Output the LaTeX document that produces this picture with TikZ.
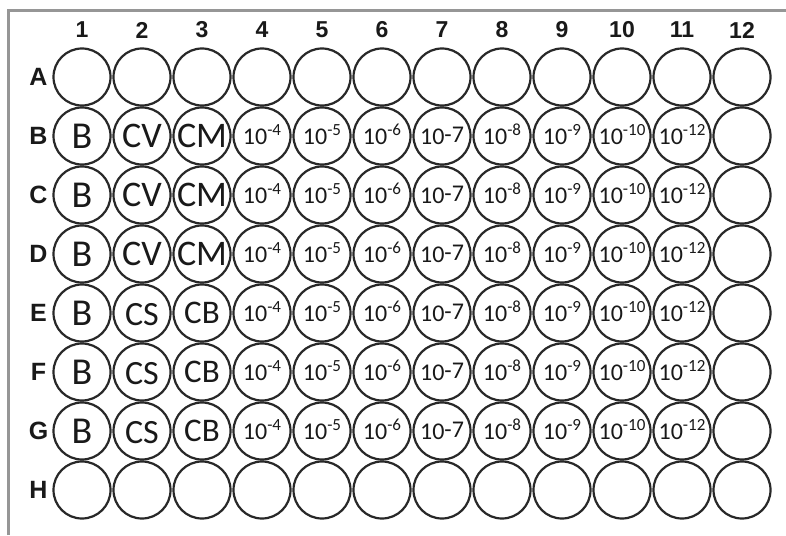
\documentclass[tikz,border=0pt]{standalone}
\usepackage{fontspec}
\setmainfont{Carlito}
\newfontfamily\labelfont{Liberation Sans}
\usepackage{tikz}
\usetikzlibrary{positioning}
\definecolor{welldark}{RGB}{40,40,40}
\definecolor{inkdark}{RGB}{25,25,25}
\definecolor{plateframe}{RGB}{150,150,150}
\newcommand{\dilexp}[1]{10\raisebox{9pt}{\fontsize{17}{17}\selectfont -#1}}
\tikzset{
  well/.style={circle, draw=welldark, fill=white, minimum size=57pt,
    inner sep=0pt, line width=2.2pt},
  hdr/.style={font=\labelfont\bfseries\fontsize{23}{23}\selectfont,
    text=inkdark, inner sep=0pt},
  tag/.style={inner sep=0pt, text=inkdark}
}
\begin{document}
\begin{tikzpicture}[x=1pt, y=-1pt,
  rowhdr/.style={hdr, font=\labelfont\bfseries\fontsize{25}{25}\selectfont},
  blank/.style={tag, font=\fontsize{38}{38}\selectfont},
  ctl/.style={tag, font=\fontsize{36}{36}\selectfont},
  ctlsm/.style={tag, font=\fontsize{34}{34}\selectfont},
  ctlmd/.style={tag, font=\fontsize{33}{33}\selectfont},
  dil/.style={tag, anchor=base, font=\fontsize{24}{24}\selectfont}
]
\fill[white] (0,0) rectangle (786,535);
\useasboundingbox (0,0) rectangle (786,535);
% plate frame
\draw[line width=3pt, color=plateframe] (8.5,535) -- (8.5,10.5) -- (786,10.5);
% column numbers
\foreach \c in {1,...,12}
  \node[hdr] (col-\c) at ({82+60*(\c-1)},30) {\c};
% row letters and wells
\foreach \r [count=\i from 0] in {A,...,H} {
  \node[rowhdr] (row-\r) at (38.5,{77+59*\i}) {\r};
  \foreach \c in {1,...,12}
    \node[well] (w-\r-\c) at ({82+60*(\c-1)},{77+59*\i}) {};
}
% controls
\foreach \r in {B,C,D} {
  \node[blank] (lb-\r-1) at (w-\r-1) {B};
  \node[ctl] (lb-\r-2) at (w-\r-2) {CV};
  \node[ctl] (lb-\r-3) at (w-\r-3) {CM};
}
\foreach \r in {E,F,G} {
  \node[blank] (lb-\r-1) at (w-\r-1) {B};
  \node[ctlsm] (lb-\r-2) at ([yshift=-2pt]w-\r-2.center) {CS};
  \node[ctlmd] (lb-\r-3) at (w-\r-3) {CB};
}
% dilutions
\foreach \r in {B,...,G} {
  \foreach \c/\e in {4/4,5/5,6/6,8/8,9/9,10/10,11/12}
    \node[dil] (lb-\r-\c) at ([yshift=-8pt]w-\r-\c.center) {\dilexp{\e}};
  \node[dil] (lb-\r-7) at ([yshift=-8pt]w-\r-7.center) {10\raisebox{2pt}{-7}};
}
\end{tikzpicture}
\end{document}
